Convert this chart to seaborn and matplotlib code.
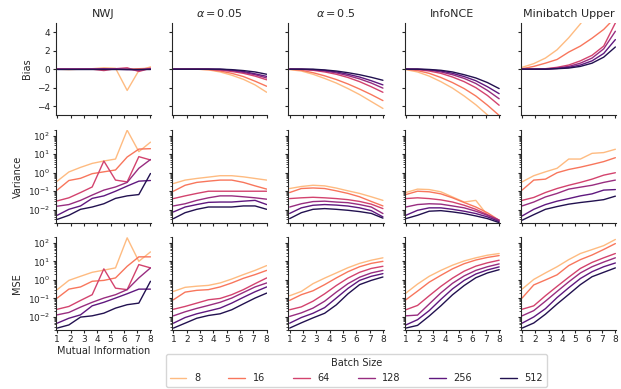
import numpy as np
import pandas as pd
import matplotlib
matplotlib.use("Agg")
import matplotlib.pyplot as plt
import seaborn as sns

mutual_info = [1.0, 1.875, 2.75, 3.625, 4.5, 5.375, 6.25, 7.125, 8.0]
batch_sizes = [8, 16, 64, 128, 256, 512]
methods = ["NWJ", r"$\alpha=0.05$", r"$\alpha=0.5$", "InfoNCE", "Minibatch Upper"]
metrics = ["Bias", "Variance", "MSE"]

# each list: one row per batch size (8, 16, 64, 128, 256, 512)
nwj_bias = [
    [0.0, -0.05, 0.0, 0.05, 0.15, 0.1, -2.3, -0.15, 0.25],
    [0.0, 0.0, 0.0, 0.0, 0.05, 0.0, 0.0, 0.05, 0.1],
    [0.0, 0.0, 0.0, 0.0, -0.15, 0.05, 0.15, -0.25, 0.1],
    [0.0, 0.0, 0.0, 0.0, 0.05, 0.0, 0.0, -0.1, 0.05],
    [0.0, 0.0, 0.0, 0.0, 0.0, 0.0, -0.05, -0.05, 0.0],
    [0.0, 0.0, 0.0, 0.0, 0.0, 0.0, 0.0, 0.0, 0.0],
]
a005_bias = [
    [0.0, 0.0, 0.0, -0.08, -0.3, -0.65, -1.1, -1.7, -2.5],
    [0.0, 0.0, 0.0, -0.05, -0.2, -0.45, -0.8, -1.3, -1.85],
    [0.0, 0.0, 0.0, 0.0, -0.1, -0.25, -0.45, -0.75, -1.15],
    [0.0, 0.0, 0.0, 0.0, -0.05, -0.15, -0.35, -0.6, -0.95],
    [0.0, 0.0, 0.0, 0.0, 0.0, -0.1, -0.25, -0.5, -0.78],
    [0.0, 0.0, 0.0, 0.0, 0.0, -0.05, -0.15, -0.3, -0.55],
]
a05_bias = [
    [-0.05, -0.2, -0.55, -1.0, -1.5, -2.1, -2.75, -3.5, -4.25],
    [0.0, -0.12, -0.38, -0.72, -1.12, -1.6, -2.15, -2.75, -3.4],
    [0.0, -0.03, -0.12, -0.3, -0.55, -0.9, -1.35, -1.9, -2.5],
    [0.0, 0.0, -0.07, -0.2, -0.4, -0.7, -1.05, -1.5, -2.05],
    [0.0, 0.0, -0.04, -0.13, -0.3, -0.55, -0.85, -1.25, -1.7],
    [0.0, 0.0, 0.0, -0.08, -0.2, -0.38, -0.6, -0.88, -1.2],
]
infonce_bias = [
    [-0.05, -0.3, -0.75, -1.35, -2.05, -2.9, -3.85, -4.95, -6.2],
    [0.0, -0.15, -0.45, -0.9, -1.45, -2.1, -2.9, -3.9, -5.0],
    [0.0, -0.05, -0.2, -0.45, -0.85, -1.35, -2.0, -2.85, -3.9],
    [0.0, 0.0, -0.1, -0.3, -0.6, -1.0, -1.55, -2.3, -3.2],
    [0.0, 0.0, -0.06, -0.2, -0.45, -0.8, -1.25, -1.9, -2.65],
    [0.0, 0.0, -0.03, -0.12, -0.3, -0.6, -0.95, -1.45, -2.1],
]
upper_bias = [
    [0.2, 0.6, 1.2, 2.1, 3.4, 4.9, 6.6, 8.5, 10.5],
    [0.05, 0.3, 0.65, 1.05, 1.85, 2.5, 3.35, 4.3, 5.6],
    [0.0, 0.0, 0.05, 0.2, 0.45, 0.9, 1.5, 2.5, 5.0],
    [0.0, 0.0, 0.02, 0.12, 0.3, 0.65, 1.2, 2.2, 4.1],
    [0.0, 0.0, 0.0, 0.08, 0.2, 0.45, 0.9, 1.7, 3.2],
    [0.0, 0.0, 0.0, 0.05, 0.12, 0.3, 0.65, 1.3, 2.4],
]

nwj_var = [
    [0.35, 1.1, 1.95, 3.2, 4.3, 5.5, 200, 13.8, 45],
    [0.115, 0.38, 0.5, 0.89, 1.12, 1.41, 7.1, 19, 20],
    [0.030, 0.044, 0.085, 0.17, 4.3, 0.40, 0.32, 7.4, 4.9],
    [0.0155, 0.019, 0.032, 0.062, 0.115, 0.17, 0.30, 1.74, 5.2],
    [0.005, 0.0105, 0.016, 0.041, 0.056, 0.10, 0.19, 0.35, 0.38],
    [0.003, 0.005, 0.0105, 0.014, 0.021, 0.041, 0.056, 0.066, 0.91],
]
a005_var = [
    [0.26, 0.40, 0.49, 0.58, 0.69, 0.69, 0.60, 0.49, 0.40],
    [0.10, 0.21, 0.30, 0.35, 0.40, 0.40, 0.30, 0.195, 0.13],
    [0.040, 0.056, 0.076, 0.10, 0.10, 0.10, 0.10, 0.10, 0.10],
    [0.016, 0.021, 0.032, 0.044, 0.056, 0.056, 0.050, 0.044, 0.037],
    [0.0076, 0.014, 0.019, 0.025, 0.026, 0.026, 0.029, 0.032, 0.019],
    [0.0033, 0.0069, 0.0105, 0.014, 0.014, 0.014, 0.016, 0.016, 0.0105],
]
a05_var = [
    [0.14, 0.18, 0.21, 0.195, 0.148, 0.105, 0.076, 0.05, 0.032],
    [0.085, 0.14, 0.15, 0.14, 0.105, 0.076, 0.05, 0.028, 0.016],
    [0.040, 0.044, 0.047, 0.044, 0.040, 0.035, 0.028, 0.020, 0.0115],
    [0.014, 0.021, 0.0275, 0.029, 0.026, 0.024, 0.019, 0.014, 0.0062],
    [0.0063, 0.0126, 0.0174, 0.019, 0.0178, 0.0158, 0.0126, 0.0089, 0.0041],
    [0.0033, 0.0069, 0.0105, 0.0115, 0.0105, 0.0093, 0.0079, 0.0063, 0.0035],
]
infonce_var = [
    [0.085, 0.13, 0.123, 0.093, 0.049, 0.026, 0.032, 0.005, 0.0022],
    [0.066, 0.10, 0.093, 0.072, 0.044, 0.0245, 0.014, 0.0068, 0.0027],
    [0.040, 0.044, 0.040, 0.034, 0.026, 0.0174, 0.0105, 0.0054, 0.0027],
    [0.014, 0.019, 0.021, 0.020, 0.016, 0.0126, 0.0083, 0.005, 0.0027],
    [0.005, 0.0093, 0.0126, 0.0126, 0.0105, 0.0083, 0.0062, 0.0041, 0.0023],
    [0.0033, 0.005, 0.0083, 0.0089, 0.0076, 0.0062, 0.0046, 0.0033, 0.002],
]
upper_var = [
    [0.32, 0.69, 1.12, 1.74, 5.5, 5.5, 11.2, 12.3, 18.6],
    [0.115, 0.40, 0.45, 1.0, 1.5, 2.0, 2.8, 4.0, 6.5],
    [0.032, 0.046, 0.085, 0.14, 0.21, 0.30, 0.45, 0.74, 1.0],
    [0.016, 0.026, 0.049, 0.076, 0.13, 0.166, 0.21, 0.30, 0.40],
    [0.0046, 0.0105, 0.019, 0.029, 0.040, 0.056, 0.072, 0.115, 0.123],
    [0.0027, 0.0054, 0.0105, 0.0148, 0.020, 0.0245, 0.029, 0.035, 0.054],
]

nwj_mse = [
    [0.30, 0.95, 1.58, 2.6, 3.4, 4.5, 190, 10.2, 33],
    [0.105, 0.32, 0.42, 0.85, 0.95, 1.29, 5.5, 17.8, 17.8],
    [0.026, 0.037, 0.078, 0.16, 4.0, 0.36, 0.30, 6.8, 4.5],
    [0.013, 0.0175, 0.034, 0.062, 0.105, 0.16, 0.30, 1.29, 4.5],
    [0.0046, 0.0085, 0.013, 0.04, 0.062, 0.105, 0.18, 0.32, 0.32],
    [0.0025, 0.0037, 0.0098, 0.0115, 0.016, 0.030, 0.046, 0.056, 0.85],
]
a005_mse = [
    [0.24, 0.40, 0.46, 0.51, 0.69, 1.12, 1.95, 3.3, 6.0],
    [0.085, 0.22, 0.275, 0.30, 0.42, 0.69, 1.23, 1.95, 3.3],
    [0.026, 0.037, 0.056, 0.085, 0.10, 0.16, 0.30, 0.63, 1.29],
    [0.0115, 0.019, 0.029, 0.042, 0.062, 0.105, 0.21, 0.42, 0.69],
    [0.0046, 0.0093, 0.0148, 0.021, 0.030, 0.056, 0.115, 0.23, 0.42],
    [0.0025, 0.0046, 0.0085, 0.012, 0.0148, 0.0245, 0.051, 0.105, 0.195],
]
a05_mse = [
    [0.14, 0.24, 0.63, 1.26, 2.4, 4.6, 7.9, 11.7, 15.8],
    [0.079, 0.16, 0.26, 0.56, 1.29, 2.8, 5.2, 7.9, 10.2],
    [0.0245, 0.035, 0.071, 0.178, 0.50, 1.26, 2.6, 4.2, 5.5],
    [0.0107, 0.0166, 0.030, 0.071, 0.22, 0.63, 1.41, 2.4, 3.3],
    [0.0046, 0.0093, 0.0158, 0.032, 0.105, 0.35, 0.95, 1.58, 2.2],
    [0.0025, 0.0048, 0.0089, 0.0158, 0.045, 0.178, 0.56, 0.95, 1.45],
]
infonce_mse = [
    [0.195, 0.60, 1.58, 3.3, 6.3, 10.7, 15.8, 21.9, 26.9],
    [0.085, 0.25, 0.76, 1.78, 4.0, 7.6, 12.0, 16.6, 20.9],
    [0.0245, 0.042, 0.14, 0.45, 1.26, 3.0, 5.6, 8.5, 11.7],
    [0.0115, 0.0126, 0.05, 0.20, 0.66, 1.66, 3.3, 5.2, 7.4],
    [0.0037, 0.0071, 0.022, 0.089, 0.33, 0.95, 2.1, 3.5, 5.1],
    [0.0025, 0.0035, 0.0112, 0.040, 0.158, 0.50, 1.32, 2.4, 3.6],
]
upper_mse = [
    [0.32, 1.07, 2.4, 5.2, 12.6, 27, 44, 72, 155],
    [0.105, 0.54, 1.0, 1.9, 6.0, 12.6, 22.4, 44.7, 93],
    [0.026, 0.04, 0.14, 0.45, 1.41, 4.2, 8.9, 15.8, 27],
    [0.0115, 0.022, 0.071, 0.24, 0.79, 2.4, 5.2, 9.3, 15.8],
    [0.0046, 0.010, 0.028, 0.112, 0.38, 1.2, 2.8, 5.2, 8.3],
    [0.0025, 0.0047, 0.014, 0.05, 0.166, 0.56, 1.5, 2.6, 4.5],
]

panels = {
    "Bias": [nwj_bias, a005_bias, a05_bias, infonce_bias, upper_bias],
    "Variance": [nwj_var, a005_var, a05_var, infonce_var, upper_var],
    "MSE": [nwj_mse, a005_mse, a05_mse, infonce_mse, upper_mse],
}

rows = []
for metric, series_list in panels.items():
    for method, series in zip(methods, series_list):
        for bs, vals in zip(batch_sizes, series):
            for mi, v in zip(mutual_info, vals):
                rows.append({"metric": metric, "method": method,
                             "Batch Size": str(bs), "mi": mi, "value": v})
df = pd.DataFrame(rows)

sns.set_style("ticks")
plt.rcParams["font.family"] = ["DejaVu Sans"]
plt.rcParams["xtick.major.size"] = 2.5
plt.rcParams["ytick.major.size"] = 2.5
plt.rcParams["ytick.minor.size"] = 1.5
plt.rcParams["axes.linewidth"] = 0.8

palette = sns.color_palette("magma_r", 6)
hue_order = [str(b) for b in batch_sizes]

fig, axes = plt.subplots(3, 5, figsize=(6.21, 3.89), dpi=100, sharex=True, sharey="row")
fig.subplots_adjust(left=0.090, right=0.992, top=0.941, bottom=0.152, wspace=0.22, hspace=0.16)

handles, labels = None, None
for r, metric in enumerate(metrics):
    for c, method in enumerate(methods):
        ax = axes[r, c]
        sub = df[(df["metric"] == metric) & (df["method"] == method)]
        sns.lineplot(data=sub, x="mi", y="value", hue="Batch Size", hue_order=hue_order,
                     palette=palette, linewidth=1.0, ax=ax, legend=(r == 0 and c == 0))
        if r == 0 and c == 0:
            handles, labels = ax.get_legend_handles_labels()
            ax.get_legend().remove()
        if metric == "Bias":
            ax.set_ylim(-5, 5)
            ax.set_yticks([-4, -2, 0, 2, 4])
        else:
            ax.set_yscale("log")
            ax.set_ylim(2e-3, 2e2)
        ax.set_xlim(0.9, 8.05)
        ax.set_xticks(range(1, 9))
        ax.set_xlabel("")
        ax.set_ylabel(metric if c == 0 else "", fontsize=7)
        ax.tick_params(labelsize=6.5, pad=1.5)
        if r == 0:
            ax.set_title(method, fontsize=8, pad=4)
        sns.despine(ax=ax)

axes[2, 0].set_xlabel("Mutual Information", fontsize=7, labelpad=1)

fig.legend(handles, labels, title="Batch Size", loc="lower center", ncol=6,
           bbox_to_anchor=(0.574, 0.0), fontsize=7, title_fontsize=7,
           handlelength=1.7, columnspacing=2.9, frameon=True, borderaxespad=0.2)

fig.savefig("out.png", dpi=100)
